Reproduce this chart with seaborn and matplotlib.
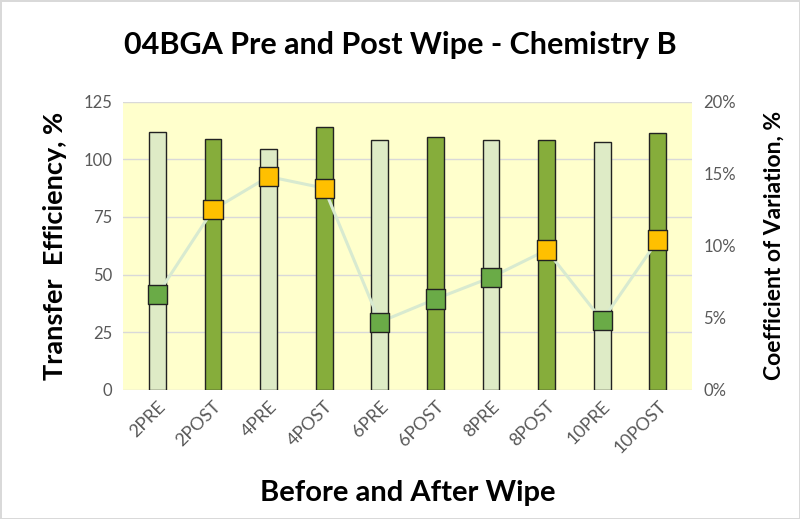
import pandas as pd
import matplotlib.pyplot as plt
import seaborn as sns

# data
samples = ['2PRE', '2POST', '4PRE', '4POST', '6PRE', '6POST', '8PRE', '8POST', '10PRE', '10POST']
transfer_eff = [112, 109, 104.5, 114, 108.5, 109.5, 108.5, 108.5, 107.5, 111.5]
cv_pct = [6.6, 12.5, 14.8, 14.0, 4.7, 6.3, 7.8, 9.7, 4.8, 10.4]
cv_limit = 8.0

sns.set_theme(style='white')
plt.rcParams['font.family'] = ['Lato', 'DejaVu Sans']
plt.rcParams['text.color'] = 'black'
plt.rcParams['axes.labelcolor'] = 'black'

df = pd.DataFrame({'Sample': samples, 'TE': transfer_eff, 'CV': cv_pct})
df['Stage'] = ['PRE' if s.endswith('PRE') else 'POST' for s in samples]
df['Flag'] = ['high' if v > cv_limit else 'ok' for v in cv_pct]

fig = plt.figure(figsize=(8, 5.19), dpi=100)
fig.patch.set_edgecolor('#d9d9d9')
fig.patch.set_linewidth(2)
ax = fig.add_axes([0.154, 0.249, 0.711, 0.555])
ax.set_facecolor('#FFFFCC')

sns.barplot(data=df, x='Sample', y='TE', hue='Stage',
            palette={'PRE': '#DEEBC6', 'POST': '#86AD3B'}, saturation=1,
            width=0.3, dodge=False, edgecolor='#222222', linewidth=1,
            legend=False, ax=ax)
ax.set_ylim(0, 125)
ax.set_yticks([0, 25, 50, 75, 100, 125])
ax.grid(axis='y', color='#d9d9d9', linewidth=1)
ax.set_axisbelow(True)
for s in ax.spines.values():
    s.set_visible(False)
ax.tick_params(axis='y', labelsize=12, labelcolor='#595959', length=0, pad=8)
ax.tick_params(axis='x', labelsize=13, labelcolor='#595959', length=0, pad=6)
plt.setp(ax.get_xticklabels(), rotation=45, ha='right', rotation_mode='anchor')
ax.set_xlabel('Before and After Wipe', fontsize=21, fontweight='bold', labelpad=17)
ax.set_ylabel('Transfer  Efficiency, %', fontsize=19.5, fontweight='bold', labelpad=12)

ax2 = ax.twinx()
sns.lineplot(data=df, x='Sample', y='CV', color='#D8EAD0', linewidth=2.2, ax=ax2, sort=False)
sns.scatterplot(data=df, x='Sample', y='CV', hue='Flag',
                palette={'ok': '#6AAB47', 'high': '#FFC000'},
                marker='s', s=190, edgecolor='#222222', linewidth=1,
                legend=False, zorder=5, ax=ax2)
ax2.set_ylim(0, 20)
ax2.set_yticks([0, 5, 10, 15, 20])
ax2.set_yticklabels([f'{t}%' for t in [0, 5, 10, 15, 20]])
ax2.tick_params(axis='y', labelsize=12, labelcolor='#595959', length=0, pad=8)
ax2.grid(False)
for s in ax2.spines.values():
    s.set_visible(False)
ax2.set_ylabel('Coefficient of Variation, %', fontsize=16.5, fontweight='bold', labelpad=20)
ax2.set_xlabel('')

fig.suptitle('04BGA Pre and Post Wipe - Chemistry B', fontsize=22, fontweight='bold', y=0.94)

fig.savefig('out.png', dpi=100)
